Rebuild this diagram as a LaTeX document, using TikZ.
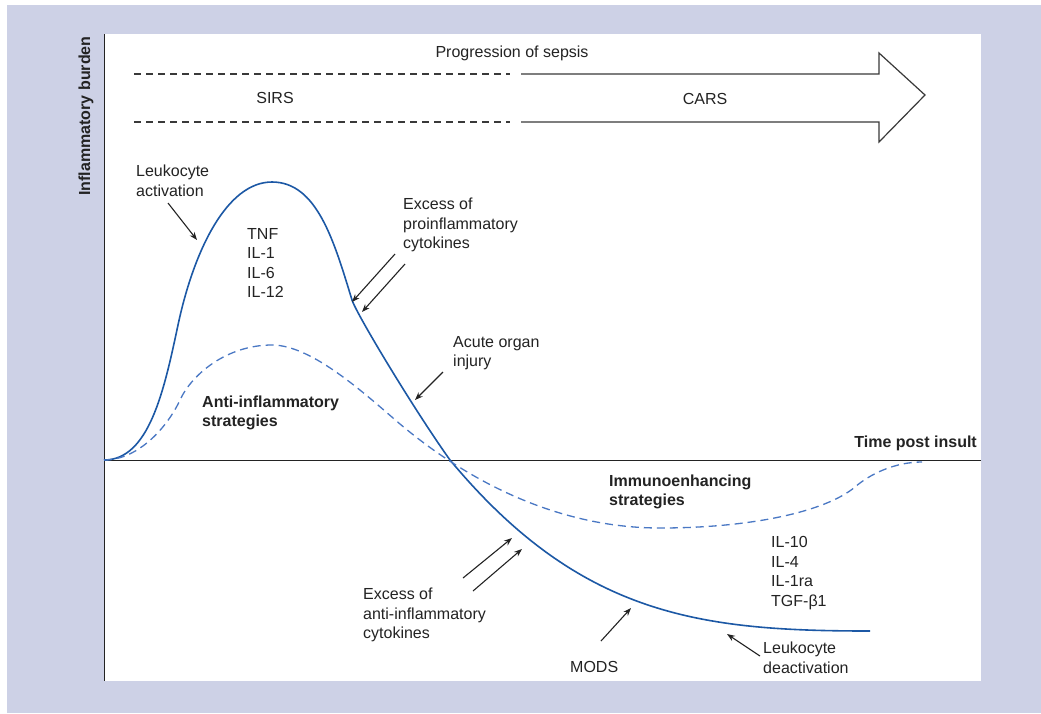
\documentclass[tikz,border=0pt]{standalone}
\usepackage{fontspec}
\setmainfont{Liberation Sans}
\usetikzlibrary{arrows.meta}
\definecolor{lav}{RGB}{205,209,230}
\definecolor{cblue}{RGB}{28,88,165}
\definecolor{dblue}{RGB}{74,120,196}
\definecolor{ink}{RGB}{35,35,35}
\tikzset{
  lbl/.style={font=\fontsize{16}{19.5}\selectfont, align=left, anchor=west, inner sep=0pt, text=ink},
  blbl/.style={font=\fontsize{16}{19.5}\selectfont\bfseries, align=left, anchor=west, inner sep=0pt, text=ink},
  ptr/.style={draw=ink, line width=1.1pt, -{Stealth[length=8pt,width=6pt]}},
  axisline/.style={draw=ink, line width=1.5pt},
  bandline/.style={draw=ink!90, line width=1.2pt},
  banddash/.style={draw=ink!90, line width=1.2pt, dash pattern=on 7pt off 5pt},
  solidcurve/.style={draw=cblue, line width=1.6pt},
  dashcurve/.style={draw=dblue, line width=1.3pt, dash pattern=on 8pt off 5pt}
}
\begin{document}
\begin{tikzpicture}[x=1pt,y=-1pt]
\useasboundingbox (0,0) rectangle (1041,713);
\fill[white] (0,0) rectangle (1041,713);
\fill[lav] (7,5) rectangle (1041,713);
\fill[white] (104,34) rectangle (981,681);

% axes
\draw[axisline] (104.5,34) -- (104.5,681);
\draw[axisline] (104,460.5) -- (981,460.5);
\node[font=\fontsize{16}{19.5}\selectfont\bfseries, text=ink, rotate=90, inner sep=0pt] (ylab) at (86,116) {Inflammatory burden};
\node[blbl, anchor=east] (xlab) at (977,443) {Time post insult};

% progression band
\draw[banddash] (134,74) -- (510,74);
\draw[banddash] (134,122) -- (510,122);
\draw[bandline, line join=miter] (521,74) -- (879,74) -- (879,53) -- (925,95) -- (879,142) -- (879,122) -- (521,122);
\node[lbl, anchor=center] (prog) at (512,53) {Progression of sepsis};
\node[lbl, anchor=center] (sirs) at (275,98) {SIRS};
\node[lbl, anchor=center] (cars) at (705,99) {CARS};

% curves
\draw[solidcurve] (104,460) .. controls (149,460) and (164,391) .. (178,325)
  .. controls (194,250) and (227,182) .. (272,182)
  .. controls (317,182) and (334,241) .. (352,300)
  .. controls (357,315) and (415,411) .. (450,460)
  .. controls (580,616) and (700,631) .. (870,631);
\draw[dashcurve] (104,460) .. controls (139,460) and (168,426) .. (180,400)
  .. controls (192,374) and (227,345) .. (272,345)
  .. controls (312,345) and (365,394) .. (400,424)
  .. controls (470,483) and (560,528) .. (660,528)
  .. controls (750,528) and (825,512) .. (855,487)
  .. controls (870,474) and (895,462) .. (922,462);

% labels
\node[lbl] (lact) at (136,181) {Leukocyte\\activation};
\node[lbl] (pro) at (247,263) {TNF\\IL-1\\IL-6\\IL-12};
\node[blbl] (antis) at (202,413) {Anti-inflammatory\\strategies};
\node[lbl] (exp) at (403,225) {Excess of\\proinflammatory\\cytokines};
\node[lbl] (aoi) at (453,353) {Acute organ\\injury};
\node[blbl] (immu) at (609,492) {Immunoenhancing\\strategies};
\node[lbl] (anti) at (771,573) {IL-10\\IL-4\\IL-1ra\\TGF-β1};
\node[lbl] (ldeact) at (763,658) {Leukocyte\\deactivation};
\node[lbl] (mods) at (570,667) {MODS};
\node[lbl] (exa) at (363,615) {Excess of\\anti-inflammatory\\cytokines};

% pointer ends
\coordinate (a1s) at (168,203); \coordinate (a1e) at (197,240);
\coordinate (a2s) at (395,254); \coordinate (a2e) at (352,302);
\coordinate (a3s) at (405,264); \coordinate (a3e) at (362,312);
\coordinate (a4s) at (443,372); \coordinate (a4e) at (415,400);
\coordinate (a5s) at (463,578); \coordinate (a5e) at (512,538);
\coordinate (a6s) at (473,591); \coordinate (a6e) at (522,549);
\coordinate (a7s) at (601,641); \coordinate (a7e) at (631,608);
\coordinate (a8s) at (760,656); \coordinate (a8e) at (727,634);
\draw[ptr] (a1s) -- (a1e);
\draw[ptr] (a2s) -- (a2e);
\draw[ptr] (a3s) -- (a3e);
\draw[ptr] (a4s) -- (a4e);
\draw[ptr] (a5s) -- (a5e);
\draw[ptr] (a6s) -- (a6e);
\draw[ptr] (a7s) -- (a7e);
\draw[ptr] (a8s) -- (a8e);
\end{tikzpicture}
\end{document}
